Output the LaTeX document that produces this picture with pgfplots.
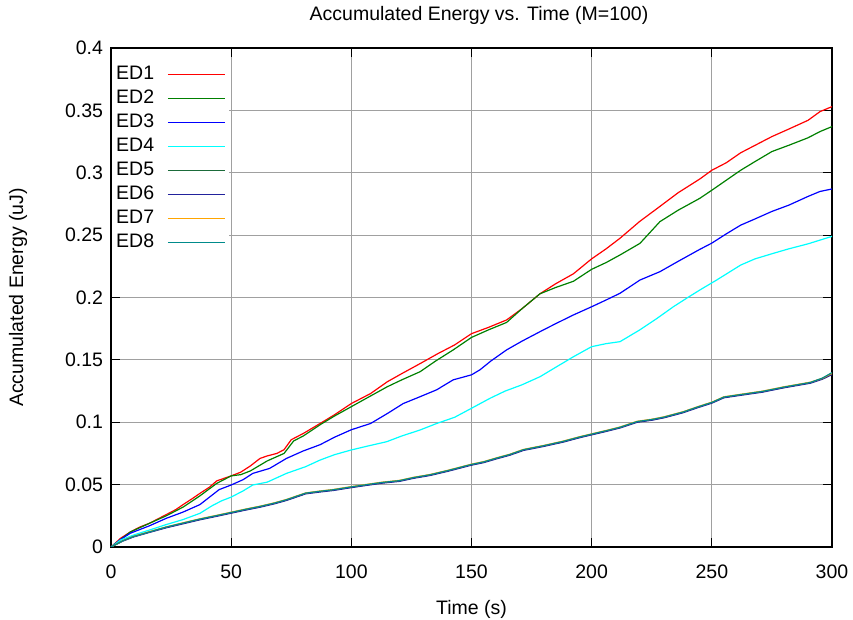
\documentclass[border=0pt]{standalone}
\usepackage{fontspec}
\setmainfont{Liberation Sans}
\usepackage{pgfplots}
\pgfplotsset{compat=1.18}
\usepackage{pgfplotstable}
\newcommand\ff{\fontsize{19.5bp}{23bp}\selectfont}
\definecolor{cEDa}{HTML}{FF0000}
\definecolor{cEDb}{HTML}{008000}
\definecolor{cEDc}{HTML}{0000FF}
\definecolor{cEDd}{HTML}{00FFFF}
\definecolor{cEDe}{HTML}{1B6B3A}
\definecolor{cEDf}{HTML}{22229C}
\definecolor{cEDg}{HTML}{FFA500}
\definecolor{cEDh}{HTML}{008B8B}
\definecolor{gridgray}{HTML}{A0A0A0}

\pgfplotstableread{
t e
0 0
4 0.007
8 0.012
12 0.016
16 0.019
20 0.023
23 0.026
27 0.030
30 0.034
34 0.039
37 0.043
41 0.048
44 0.053
47 0.055
50 0.057
54 0.060
58 0.065
62 0.071
65 0.073
69 0.075
72 0.078
75 0.086
80 0.091
87 0.099
93 0.106
100 0.115
104 0.119
108 0.123
115 0.1325
121 0.139
128.6 0.147
136 0.155
143 0.162
150 0.171
157 0.176
164.6 0.182
171 0.191
178.5 0.203
185 0.211
192.4 0.219
200 0.231
206 0.239
211.8 0.2475
220 0.261
228.4 0.273
236 0.284
245 0.295
250 0.302
256 0.308
262 0.316
268 0.322
275 0.329
282 0.335
290 0.342
295 0.349
300 0.353
}\EDone

\pgfplotstableread{
t e
0 0
4 0.006
8 0.012
16 0.019
23 0.025
30 0.032
37 0.041
44 0.051
50 0.057
54 0.058
58 0.061
65 0.069
72 0.075
76 0.085
80 0.089
87 0.098
93 0.105
100 0.1125
107 0.120
115 0.1285
121 0.134
128.6 0.1405
135 0.149
142.4 0.158
150 0.168
157 0.174
164.6 0.180
171 0.191
178.5 0.203
185 0.208
192.4 0.213
200 0.2226
206 0.228
211.8 0.2341
220.1 0.2434
228.4 0.2608
236 0.270
245 0.2795
250 0.286
256 0.294
262 0.302
268 0.309
275 0.317
282 0.322
290 0.328
295 0.333
300 0.337
}\EDtwo

\pgfplotstableread{
t e
0 0
4 0.006
8 0.011
16 0.017
23 0.023
30 0.028
37 0.034
41 0.040
45 0.046
50 0.0497
55 0.054
59 0.059
66 0.063
73 0.071
80 0.077
87 0.082
93 0.088
100 0.094
108 0.099
115 0.107
121.6 0.115
128 0.120
135.5 0.126
142.4 0.134
150 0.138
153.5 0.142
158 0.149
164.6 0.158
171 0.165
178.5 0.1726
185 0.179
192.4 0.186
200 0.1926
206 0.198
211.8 0.2034
220.1 0.214
228.4 0.2207
236 0.229
245 0.2386
250 0.2436
256 0.251
262 0.258
268 0.263
275 0.269
282 0.274
290 0.281
295 0.285
300 0.287
}\EDthree

\pgfplotstableread{
t e
0 0
4 0.0056
10 0.010
16 0.0136
23 0.018
30 0.022
37 0.027
42 0.033
46 0.037
50 0.040
55 0.045
59 0.0497
65 0.052
73 0.059
81 0.0644
87 0.0697
93 0.074
100 0.0778
107 0.081
114.7 0.0844
121 0.089
128.6 0.0938
135.5 0.099
143 0.104
150 0.1112
157.7 0.1192
164 0.125
171 0.130
178.5 0.1365
185 0.144
192.4 0.1525
200 0.1606
206 0.163
211.8 0.1646
220 0.174
227 0.183
234 0.1926
240 0.200
245 0.206
252 0.214
257 0.220
262 0.226
268 0.231
275.6 0.2354
282 0.239
290 0.243
295 0.246
300 0.249
}\EDfour

\pgfplotstableread{
t a b c d
0 0 0 0 0
5 0.005 0.0048 0.0052 0.0051
9.3 0.0083 0.0080 0.0085 0.0084
16 0.012 0.0117 0.0123 0.0121
23 0.0158 0.0154 0.0161 0.0160
30 0.019 0.0186 0.0194 0.0192
37 0.0222 0.0218 0.0226 0.0224
44 0.025 0.0246 0.0254 0.0252
50 0.0275 0.0271 0.0279 0.0277
56 0.030 0.0296 0.0304 0.0302
62 0.0323 0.0319 0.0327 0.0325
68 0.035 0.0346 0.0354 0.0352
73 0.0377 0.0373 0.0381 0.0379
78 0.041 0.0406 0.0414 0.0412
81 0.043 0.0426 0.0433 0.0432
87 0.0445 0.0441 0.0449 0.0447
92.5 0.0457 0.0453 0.0461 0.0459
100 0.048 0.0476 0.0484 0.0482
106 0.0497 0.0493 0.0501 0.0499
113 0.0516 0.0512 0.0520 0.0518
120 0.053 0.0526 0.0534 0.0532
126 0.0555 0.0551 0.0559 0.0557
132.7 0.0577 0.0573 0.0581 0.0579
140 0.061 0.0606 0.0614 0.0612
150 0.066 0.0656 0.0664 0.0662
155 0.068 0.0676 0.0684 0.0682
160.5 0.0711 0.0707 0.0715 0.0713
166 0.074 0.0736 0.0744 0.0742
171.6 0.0778 0.0774 0.0782 0.0780
180 0.081 0.0806 0.0814 0.0812
188 0.0844 0.0840 0.0848 0.0846
195 0.088 0.0876 0.0884 0.0882
200 0.0903 0.0899 0.0907 0.0905
206 0.093 0.0926 0.0934 0.0932
212 0.0959 0.0955 0.0963 0.0961
219 0.1004 0.1000 0.1008 0.1006
225 0.102 0.1016 0.1024 0.1022
230 0.1039 0.1035 0.1043 0.1041
238 0.108 0.1076 0.1084 0.1082
244 0.112 0.1116 0.1124 0.1122
250 0.1157 0.1153 0.1161 0.1159
255 0.120 0.1196 0.1204 0.1202
262 0.122 0.1216 0.1224 0.1222
271 0.1245 0.1241 0.1249 0.1247
280 0.128 0.1276 0.1284 0.1282
291 0.1317 0.1313 0.1321 0.1319
296 0.135 0.1345 0.1352 0.1354
300 0.139 0.1382 0.1392 0.1398
}\EDlow

\begin{document}
\begin{tikzpicture}
\begin{axis}[
  at={(0,0)}, anchor=south west,
  width=721bp, height=499bp, scale only axis,
  xmin=0, xmax=300, ymin=0, ymax=0.4,
  xtick={0,50,100,150,200,250,300},
  ytick={0,0.05,0.1,0.15,0.2,0.25,0.3,0.35,0.4},
  scaled y ticks=false,
  yticklabel style={/pgf/number format/fixed, /pgf/number format/precision=2, xshift=-4.5bp},
  xticklabel style={yshift=-14bp},
  /pgf/number format/assume math mode=true,
  tick label style={font=\ff},
  grid=major,
  major grid style={line width=1bp, color=gridgray},
  axis line style={line width=1.2bp, black},
  every tick/.style={line width=1.2bp, black},
  major tick length=9bp,
  tick align=inside,
  title={Accumulated Energy vs. Time (M=100)},
  every axis title shift=0pt,
  title style={at={(axis description cs:0.5104,1.0661)}, anchor=center, yshift=0pt, font=\ff},
  xlabel={Time (s)},
  xlabel style={at={(axis description cs:0.5,-0.1242)}, anchor=center, font=\ff},
  ylabel={Accumulated Energy (uJ)},
  ylabel style={at={(axis description cs:-0.129,0.5)}, anchor=center, font=\ff},
  legend plot pos=right,
  legend cell align=left,
  legend image code/.code={\draw[#1, line width=1.3bp] (0bp,0bp) -- (57bp,0bp);},
  legend style={at={(rel axis cs:0.0014,0.978958)}, anchor=north west,
    fill=white, draw=none, inner xsep=4bp, inner ysep=7bp,
    row sep=6bp, column sep=13bp, font=\ff,
    nodes={inner sep=0pt, text height=14bp, text depth=4bp}},
]
\addplot[cEDa, line width=1.2bp] table[x=t,y=e] {\EDone};
\addlegendentry{ED1}
\addplot[cEDb, line width=1.2bp] table[x=t,y=e] {\EDtwo};
\addlegendentry{ED2}
\addplot[cEDc, line width=1.2bp] table[x=t,y=e] {\EDthree};
\addlegendentry{ED3}
\addplot[cEDd, line width=1.2bp] table[x=t,y=e] {\EDfour};
\addlegendentry{ED4}
\addplot[cEDe, line width=1.2bp] table[x=t,y=a] {\EDlow};
\addlegendentry{ED5}
\addplot[cEDf, line width=1.2bp] table[x=t,y=b] {\EDlow};
\addlegendentry{ED6}
\addplot[cEDg, line width=1.2bp] table[x=t,y=c] {\EDlow};
\addlegendentry{ED7}
\addplot[cEDh, line width=1.2bp] table[x=t,y=d] {\EDlow};
\addlegendentry{ED8}
\end{axis}
\pgfresetboundingbox
\path[use as bounding box] (-111bp,-73bp) rectangle (742bp,547bp);
\end{tikzpicture}
\end{document}
